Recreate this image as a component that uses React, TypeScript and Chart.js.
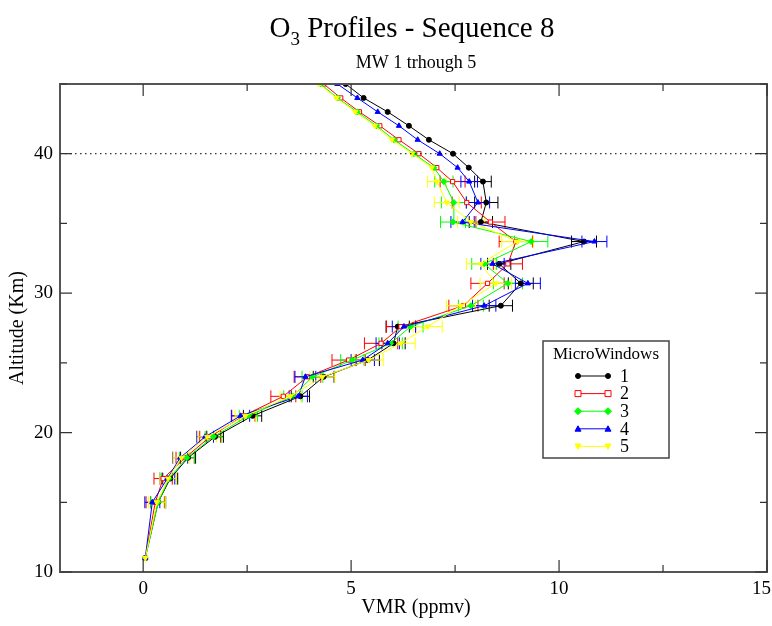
import React, { useEffect, useRef } from "react";
import { Chart, registerables } from "chart.js";

Chart.register(...registerables);

const ALTITUDES = [11, 15, 16.7, 18.2, 19.7, 21.2, 22.6, 24, 25.2, 26.4, 27.6, 29.1, 30.7, 32.1, 33.7, 35.1, 36.5, 38, 39, 40, 41, 42, 43, 44, 45];

const MW1 = [0.05, 0.36, 0.65, 1.08, 1.73, 2.63, 3.78, 4.34, 5.4, 6.02, 6.12, 8.6, 9.08, 8.56, 10.6, 8.12, 8.25, 8.17, 7.83, 7.45, 6.87, 6.39, 5.88, 5.3, 4.87];
const MW2 = [0.05, 0.29, 0.48, 1.01, 1.61, 2.41, 3.37, 3.95, 4.94, 5.72, 6.2, 7.7, 8.28, 8.77, 8.96, 8.35, 7.78, 7.44, 7.06, 6.63, 6.15, 5.69, 5.2, 4.75, 4.34];
const MW3 = [0.05, 0.36, 0.62, 1.05, 1.69, 2.53, 3.6, 4.07, 5.03, 5.95, 6.43, 7.88, 8.77, 8.2, 9.33, 7.45, 7.47, 7.23, 6.99, 6.51, 6.03, 5.61, 5.15, 4.67, 4.27];
const MW4 = [0.05, 0.22, 0.58, 0.89, 1.49, 2.34, 3.73, 3.9, 5.28, 5.88, 6.27, 8.2, 9.25, 8.4, 10.85, 7.68, 8.05, 7.84, 7.56, 7.13, 6.6, 6.15, 5.64, 5.15, 4.67];
const MW5 = [0.05, 0.33, 0.6, 0.92, 1.54, 2.46, 3.54, 4.31, 5.42, 6.19, 6.84, 7.64, 8.48, 8.12, 9.0, 7.88, 7.3, 7.06, 6.94, 6.46, 5.98, 5.57, 5.1, 4.65, 4.22];

const ERR1 = [0, 0.18, 0.18, 0.18, 0.2, 0.22, 0.22, 0.25, 0.28, 0.28, 0.28, 0.28, 0.3, 0.28, 0.3, 0.28, 0.28, 0.2, 0, 0, 0, 0, 0, 0, 0];
const ERR2 = [0, 0.22, 0.22, 0.22, 0.25, 0.28, 0.3, 0.32, 0.4, 0.4, 0.35, 0.35, 0.4, 0.35, 0.4, 0.35, 0.35, 0.3, 0, 0, 0, 0, 0, 0, 0];
const ERR3 = [0, 0.18, 0.18, 0.18, 0.2, 0.22, 0.22, 0.25, 0.28, 0.28, 0.3, 0.3, 0.35, 0.3, 0.4, 0.3, 0.3, 0.22, 0, 0, 0, 0, 0, 0, 0];
const ERR4 = [0, 0.18, 0.18, 0.18, 0.2, 0.22, 0.22, 0.25, 0.28, 0.28, 0.28, 0.28, 0.3, 0.28, 0.3, 0.28, 0.28, 0.2, 0, 0, 0, 0, 0, 0, 0];
const ERR5 = [0, 0.2, 0.2, 0.2, 0.22, 0.25, 0.25, 0.3, 0.35, 0.35, 0.35, 0.35, 0.38, 0.35, 0.38, 0.32, 0.3, 0.22, 0, 0, 0, 0, 0, 0, 0];

const SERIES_LABELS = ["1", "2", "3", "4", "5"];
const SERIES_VALUES = [MW1, MW2, MW3, MW4, MW5];
const SERIES_ERRORS = [ERR1, ERR2, ERR3, ERR4, ERR5];
const COLORS = ["#000000", "#ff0000", "#00ff00", "#0000ff", "#ffff00"];
const POINT_STYLES = ["circle", "rect", "rectRot", "triangle", "triangle"];
const POINT_ROT = [0, 0, 0, 0, 180];
const POINT_BG = ["#000000", "#ffffff", "#00ff00", "#0000ff", "#ffff00"];

const X_TICKS = [0, 5, 10, 15];
const X_MINOR = [-2.5, 2.5, 7.5, 12.5];
const Y_TICKS = [10, 20, 30, 40];
const Y_MINOR = [15, 25, 35, 45];

const SERIF = '"Liberation Serif", "DejaVu Serif", serif';

function drawMarker(ctx: CanvasRenderingContext2D, i: number, x: number, y: number) {
  ctx.save();
  ctx.strokeStyle = COLORS[i];
  ctx.fillStyle = POINT_BG[i];
  ctx.lineWidth = 1;
  const r = 3;
  ctx.beginPath();
  if (i === 0) {
    ctx.arc(x, y, 2.5, 0, Math.PI * 2);
  } else if (i === 1) {
    ctx.rect(x - r, y - r, 2 * r, 2 * r);
  } else if (i === 2) {
    ctx.moveTo(x, y - r - 0.5);
    ctx.lineTo(x + r + 0.5, y);
    ctx.lineTo(x, y + r + 0.5);
    ctx.lineTo(x - r - 0.5, y);
    ctx.closePath();
  } else if (i === 3) {
    ctx.moveTo(x, y - r);
    ctx.lineTo(x + r, y + r * 0.8);
    ctx.lineTo(x - r, y + r * 0.8);
    ctx.closePath();
  } else {
    ctx.moveTo(x, y + r);
    ctx.lineTo(x + r, y - r * 0.8);
    ctx.lineTo(x - r, y - r * 0.8);
    ctx.closePath();
  }
  ctx.fill();
  ctx.stroke();
  ctx.restore();
}

const errorBarPlugin = {
  id: "errorBars",
  beforeDatasetsDraw(chart: any) {
    const ctx = chart.ctx;
    const xs = chart.scales.x;
    const ys = chart.scales.y;
    ctx.save();
    ctx.lineWidth = 1;
    SERIES_VALUES.forEach((vals, i) => {
      ctx.strokeStyle = COLORS[i];
      vals.forEach((v, k) => {
        const e = SERIES_ERRORS[i][k];
        if (!e) return;
        const y = ys.getPixelForValue(ALTITUDES[k]);
        const x0 = xs.getPixelForValue(v - e);
        const x1 = xs.getPixelForValue(v + e);
        ctx.beginPath();
        ctx.moveTo(x0, y);
        ctx.lineTo(x1, y);
        ctx.moveTo(x0, y - 6);
        ctx.lineTo(x0, y + 6);
        ctx.moveTo(x1, y - 6);
        ctx.lineTo(x1, y + 6);
        ctx.stroke();
      });
    });
    ctx.restore();
  },
};

const framePlugin = {
  id: "frame",
  beforeDraw(chart: any) {
    const ctx = chart.ctx;
    ctx.save();
    ctx.fillStyle = "#ffffff";
    ctx.fillRect(0, 0, chart.width, chart.height);
    ctx.restore();
  },
  afterDraw(chart: any) {
    const ctx = chart.ctx;
    const xs = chart.scales.x;
    const ys = chart.scales.y;
    const a = chart.chartArea;
    ctx.save();

    // dotted line at 40 km
    const y40 = ys.getPixelForValue(40);
    ctx.strokeStyle = "#000";
    ctx.lineWidth = 1;
    ctx.setLineDash([1.5, 3.5]);
    ctx.beginPath();
    ctx.moveTo(a.left, y40);
    ctx.lineTo(a.right, y40);
    ctx.stroke();
    ctx.setLineDash([]);

    // frame
    ctx.strokeStyle = "#555";
    ctx.lineWidth = 2;
    ctx.strokeRect(a.left, a.top, a.right - a.left, a.bottom - a.top);

    // ticks (inward)
    ctx.lineWidth = 1.2;
    ctx.strokeStyle = "#333";
    const tick = (vals: number[], len: number) => {
      vals.forEach((v) => {
        if (v < xs.min || v > xs.max) return;
        const x = xs.getPixelForValue(v);
        ctx.beginPath();
        ctx.moveTo(x, a.bottom);
        ctx.lineTo(x, a.bottom - len);
        ctx.moveTo(x, a.top);
        ctx.lineTo(x, a.top + len);
        ctx.stroke();
      });
    };
    tick(X_TICKS, 12);
    tick(X_MINOR, 7);
    const ytick = (vals: number[], len: number) => {
      vals.forEach((v) => {
        if (v < ys.min || v > ys.max) return;
        const y = ys.getPixelForValue(v);
        ctx.beginPath();
        ctx.moveTo(a.left, y);
        ctx.lineTo(a.left + len, y);
        ctx.moveTo(a.right, y);
        ctx.lineTo(a.right - len, y);
        ctx.stroke();
      });
    };
    ytick(Y_TICKS, 12);
    ytick(Y_MINOR, 7);

    // tick labels
    ctx.fillStyle = "#000";
    ctx.font = `19px ${SERIF}`;
    ctx.textAlign = "center";
    ctx.textBaseline = "middle";
    X_TICKS.forEach((v) => {
      const label = String(v);
      const hw = ctx.measureText(label).width / 2;
      const px = Math.min(xs.getPixelForValue(v), chart.width - hw - 1);
      ctx.fillText(label, px, a.bottom + 17);
    });
    ctx.textAlign = "right";
    Y_TICKS.forEach((v) => {
      ctx.fillText(String(v), a.left - 7, ys.getPixelForValue(v));
    });

    // axis titles
    ctx.textAlign = "center";
    ctx.font = `20px ${SERIF}`;
    ctx.fillText("VMR (ppmv)", 416, a.bottom + 36);
    ctx.save();
    ctx.translate(18, 328);
    ctx.rotate(-Math.PI / 2);
    ctx.fillText("Altitude (Km)", 0, 0);
    ctx.restore();

    // title with subscript
    const cx = 412;
    ctx.textBaseline = "alphabetic";
    ctx.textAlign = "left";
    const big = `29px ${SERIF}`;
    const small = `19px ${SERIF}`;
    ctx.font = big;
    const wO = ctx.measureText("O").width;
    const rest = " Profiles - Sequence 8";
    const wR = ctx.measureText(rest).width;
    ctx.font = small;
    const w3 = ctx.measureText("3").width;
    const total = wO + w3 + wR;
    let x = cx - total / 2;
    ctx.font = big;
    ctx.fillText("O", x, 37);
    x += wO;
    ctx.font = small;
    ctx.fillText("3", x, 45);
    x += w3;
    ctx.font = big;
    ctx.fillText(rest, x, 37);

    ctx.textAlign = "center";
    ctx.font = `18px ${SERIF}`;
    ctx.fillText("MW 1 trhough 5", 416, 68);

    // legend box
    const lx = 543, ly = 341, lw = 126, lh = 117;
    ctx.fillStyle = "#fff";
    ctx.fillRect(lx, ly, lw, lh);
    ctx.strokeStyle = "#444";
    ctx.lineWidth = 1.5;
    ctx.strokeRect(lx, ly, lw, lh);
    ctx.fillStyle = "#000";
    ctx.font = `17px ${SERIF}`;
    ctx.textAlign = "center";
    ctx.textBaseline = "middle";
    ctx.fillText("MicroWindows", lx + lw / 2, ly + 14);
    ctx.font = `18px ${SERIF}`;
    SERIES_LABELS.forEach((lab, i) => {
      const yy = ly + 35 + i * 17.6;
      ctx.strokeStyle = COLORS[i];
      ctx.lineWidth = 1;
      ctx.beginPath();
      ctx.moveTo(578, yy);
      ctx.lineTo(608, yy);
      ctx.stroke();
      drawMarker(ctx, i, 578, yy);
      drawMarker(ctx, i, 608, yy);
      ctx.fillStyle = "#000";
      ctx.textAlign = "left";
      ctx.fillText(lab, 620, yy + 1);
    });

    ctx.restore();
  },
};

export default function App() {
  const ref = useRef<HTMLCanvasElement | null>(null);

  useEffect(() => {
    document.body.style.margin = "0";
    const canvas = ref.current;
    if (!canvas) return;
    const datasets = SERIES_VALUES.map((vals, i) => ({
      label: SERIES_LABELS[i],
      data: vals.map((v, k) => ({ x: v, y: ALTITUDES[k] })),
      showLine: true,
      borderColor: COLORS[i],
      backgroundColor: POINT_BG[i],
      borderWidth: 1,
      pointStyle: POINT_STYLES[i] as any,
      pointRotation: POINT_ROT[i],
      pointRadius: i === 0 ? 2.5 : 3,
      pointBorderColor: COLORS[i],
      pointBackgroundColor: POINT_BG[i],
      pointBorderWidth: 1,
      order: 4 - i,
    }));
    const chart = new Chart(canvas, {
      type: "scatter",
      data: { datasets },
      options: {
        animation: false,
        responsive: false,
        maintainAspectRatio: false,
        devicePixelRatio: 1,
        layout: { padding: { left: 60, right: 4, top: 84, bottom: 54 } },
        plugins: {
          legend: { display: false },
          title: { display: false },
          tooltip: { enabled: false },
        },
        scales: {
          x: {
            type: "linear",
            min: -2,
            max: 15,
            ticks: { display: false },
            grid: { display: false, drawTicks: false },
            border: { display: false },
            afterFit: (s: any) => {
              s.height = 0;
            },
          },
          y: {
            type: "linear",
            min: 10,
            max: 45,
            ticks: { display: false },
            grid: { display: false, drawTicks: false },
            border: { display: false },
            afterFit: (s: any) => {
              s.width = 0;
            },
          },
        },
      },
      plugins: [framePlugin, errorBarPlugin],
    });
    return () => chart.destroy();
  }, []);

  return (
    <canvas
      ref={ref}
      width={772}
      height={626}
      style={{ display: "block", width: "772px", height: "626px" }}
    />
  );
}
